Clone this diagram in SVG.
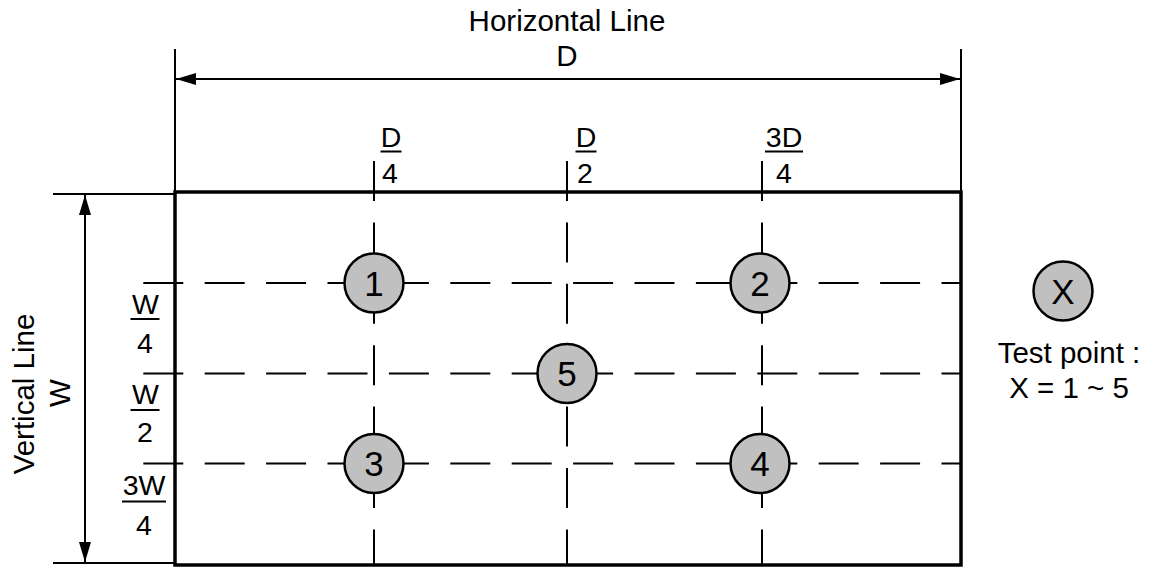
<svg xmlns="http://www.w3.org/2000/svg" width="1153" height="567" viewBox="0 0 1153 567">
<style>
  text { font-family: "Liberation Sans", Arial, sans-serif; fill: #000; }
  .lbl { font-size: 29.5px; }
  .frac { font-size: 28.5px; text-anchor: middle; }
  .num { font-size: 35px; text-anchor: middle; }
  .thin { stroke: #000; stroke-width: 2; fill: none; }
  .dash { stroke: #000; stroke-width: 2; fill: none; stroke-dasharray: 40 21.4; }
  .frame { stroke: #000; stroke-width: 3.5; fill: none; }
  .pt { fill: #c0c0c0; stroke: #000; stroke-width: 2.5; }
</style>
<defs>
  <marker id="arr" viewBox="0 0 20 12" refX="20" refY="6" markerWidth="20" markerHeight="12" markerUnits="userSpaceOnUse" orient="auto-start-reverse">
    <path d="M0,0 L20,6 L0,12 z" fill="#000"/>
  </marker>
</defs>
<rect x="0" y="0" width="1153" height="567" fill="#fff"/>

<g id="grid">
  <line class="dash" x1="143.3" y1="283" x2="960" y2="283"/>
  <line class="dash" x1="143.3" y1="373.5" x2="960" y2="373.5"/>
  <line class="dash" x1="143.3" y1="463.5" x2="960" y2="463.5"/>
  <line class="dash" x1="374" y1="161" x2="374" y2="565"/>
  <line class="dash" x1="567" y1="161" x2="567" y2="565"/>
  <line class="dash" x1="762" y1="161" x2="762" y2="565"/>
</g>

<g id="frame">
  <rect class="frame" x="175" y="192" width="786" height="373"/>
</g>

<g id="connectors">
  <line class="thin" x1="175" y1="49" x2="175" y2="192"/>
  <line class="thin" x1="961" y1="49" x2="961" y2="192"/>
  <line class="thin" x1="176" y1="79" x2="960" y2="79" marker-start="url(#arr)" marker-end="url(#arr)"/>
  <line class="thin" x1="53" y1="194" x2="175" y2="194"/>
  <line class="thin" x1="53" y1="563" x2="175" y2="563"/>
  <line class="thin" x1="85" y1="195" x2="85" y2="562" marker-start="url(#arr)" marker-end="url(#arr)"/>
</g>

<g id="labels">
  <text class="lbl" x="567" y="31" text-anchor="middle">Horizontal Line</text>
  <text class="lbl" x="567" y="66" text-anchor="middle">D</text>
  <text class="lbl" transform="translate(34,394) rotate(-90)" text-anchor="middle">Vertical Line</text>
  <text class="lbl" transform="translate(70,393) rotate(-90)" text-anchor="middle">W</text>

  <g id="frac-d4">
    <text class="frac" x="391" y="147">D</text>
    <line class="thin" x1="380.5" y1="151.5" x2="401.5" y2="151.5"/>
    <text class="frac" x="390" y="182.5">4</text>
  </g>
  <g id="frac-d2">
    <text class="frac" x="586" y="147">D</text>
    <line class="thin" x1="575.5" y1="151.5" x2="596.5" y2="151.5"/>
    <text class="frac" x="585" y="182.5">2</text>
  </g>
  <g id="frac-3d4">
    <text class="frac" x="784" y="147">3D</text>
    <line class="thin" x1="765" y1="151.5" x2="803" y2="151.5"/>
    <text class="frac" x="784" y="182.5">4</text>
  </g>
  <g id="frac-w4">
    <text class="frac" x="145.5" y="314">W</text>
    <line class="thin" x1="130.5" y1="319" x2="159.5" y2="319"/>
    <text class="frac" x="145" y="353">4</text>
  </g>
  <g id="frac-w2">
    <text class="frac" x="145.5" y="404">W</text>
    <line class="thin" x1="130.5" y1="410" x2="159.5" y2="410"/>
    <text class="frac" x="145" y="441.5">2</text>
  </g>
  <g id="frac-3w4">
    <text class="frac" x="144" y="495">3W</text>
    <line class="thin" x1="122" y1="501.5" x2="166" y2="501.5"/>
    <text class="frac" x="144" y="535">4</text>
  </g>
</g>

<g id="node-1"><circle class="pt" cx="374" cy="283" r="29.5"/><text class="num" x="374" y="295.5">1</text></g>
<g id="node-2"><circle class="pt" cx="760" cy="283" r="29.5"/><text class="num" x="760" y="295.5">2</text></g>
<g id="node-3"><circle class="pt" cx="374" cy="463.5" r="29.5"/><text class="num" x="374" y="476">3</text></g>
<g id="node-4"><circle class="pt" cx="760" cy="463.5" r="29.5"/><text class="num" x="760" y="476">4</text></g>
<g id="node-5"><circle class="pt" cx="567" cy="373.5" r="29.5"/><text class="num" x="567" y="386">5</text></g>

<g id="legend">
  <circle class="pt" cx="1063" cy="291" r="29.5"/>
  <text class="num" x="1063" y="303.5">X</text>
  <text class="lbl" x="1069" y="363" text-anchor="middle">Test point :</text>
  <text class="lbl" x="1069" y="398" text-anchor="middle">X = 1 ~ 5</text>
</g>
</svg>
